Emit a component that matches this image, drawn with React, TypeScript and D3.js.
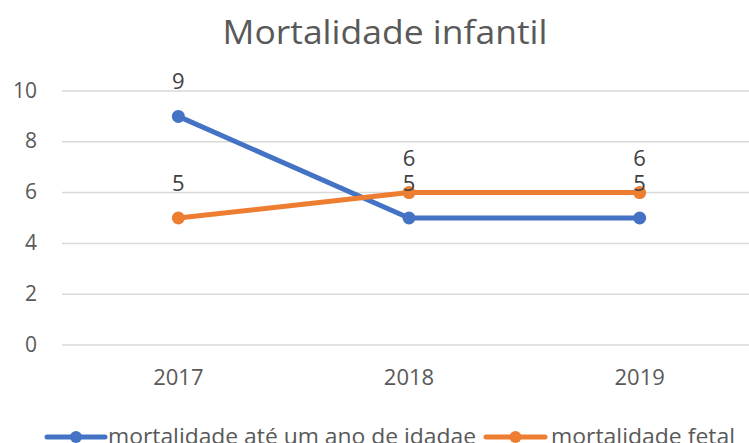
import React from 'react';
import * as d3 from 'd3';

const years = ['2017', '2018', '2019'];
const infantil = [9, 5, 5];
const fetal = [5, 6, 6];
const yTicks = [0, 2, 4, 6, 8, 10];

const seriesList = [
  { name: 'mortalidade até um ano de idadae', values: infantil, color: '#4472C4' },
  { name: 'mortalidade fetal', values: fetal, color: '#ED7D31' },
];

const W = 749;
const H = 443;
const FONT = '"Open Sans", "Noto Sans", sans-serif';
const TXT = '#595959';

const App = () => {
  const x = d3.scalePoint<string>().domain(years).range([63, 755]).padding(0.5);
  const y = d3.scaleLinear().domain([0, 10]).range([345, 91]);

  const line = d3.line<number>()
    .x((_, i) => x(years[i]) as number)
    .y(d => y(d));

  // legend layout
  const legend = [
    { lineX: [47, 105], textX: 108, textLen: 368 },
    { lineX: [486, 545], textX: 551, textLen: 184 },
  ];
  const legendY = 437;

  return (
    <svg width={W} height={H} style={{ position: 'absolute', left: 0, top: 0, background: '#fff' }}
      fontFamily={FONT}>
      <rect width={W} height={H} fill="#fff" />
      <text x={385} y={44} textAnchor="middle" fontSize={33} fill={TXT}
        textLength={325} lengthAdjust="spacingAndGlyphs">Mortalidade infantil</text>

      {yTicks.map(t => (
        <g key={t}>
          <line x1={62} x2={W} y1={y(t)} y2={y(t)} stroke="#d9d9d9" strokeWidth={1.5} />
          <text x={37} y={y(t) + 6.5} textAnchor="end" fontSize={21} fill={TXT}>{t}</text>
        </g>
      ))}

      {years.map(yr => (
        <text key={yr} x={x(yr)} y={385} textAnchor="middle" fontSize={22} fill={TXT}>{yr}</text>
      ))}

      {seriesList.map(s => (
        <g key={s.name}>
          <path d={line(s.values) || ''} fill="none" stroke={s.color} strokeWidth={5}
            strokeLinejoin="round" strokeLinecap="round" />
          {s.values.map((v, i) => (
            <circle key={i} cx={x(years[i])} cy={y(v)} r={6.5} fill={s.color} />
          ))}
        </g>
      ))}

      {seriesList.map(s => (
        <g key={s.name + '-lbl'}>
          {s.values.map((v, i) => (
            <text key={i} x={x(years[i])} y={y(v) - 27} textAnchor="middle" fontSize={22} fill="#404040">{v}</text>
          ))}
        </g>
      ))}

      {seriesList.map((s, i) => {
        const L = legend[i];
        return (
          <g key={s.name + '-leg'}>
            <line x1={L.lineX[0]} x2={L.lineX[1]} y1={legendY} y2={legendY} stroke={s.color}
              strokeWidth={5} strokeLinecap="round" />
            <circle cx={(L.lineX[0] + L.lineX[1]) / 2} cy={legendY} r={6} fill={s.color} />
            <text x={L.textX} y={legendY + 6.5} fontSize={21} fill={TXT}
              textLength={L.textLen} lengthAdjust="spacingAndGlyphs">{s.name}</text>
          </g>
        );
      })}
    </svg>
  );
};

export default App;
